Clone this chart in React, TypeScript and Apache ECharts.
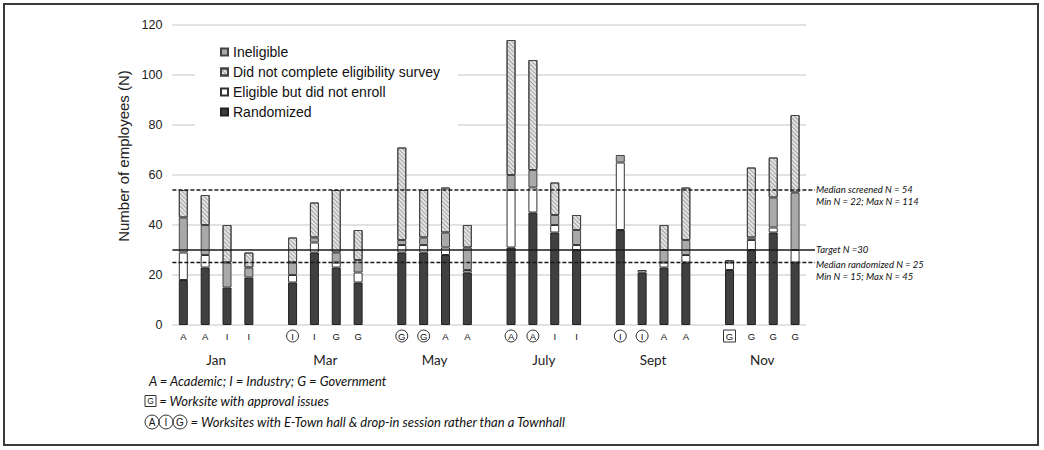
import React, { useEffect, useRef } from 'react';
import * as echarts from 'echarts';

// ---------- data ----------
const months = ['Jan', 'Mar', 'May', 'July', 'Sept', 'Nov'];
const siteTypes = ['A', 'A', 'I', 'I', 'I', 'I', 'G', 'G', 'G', 'G', 'A', 'A', 'A', 'A', 'I', 'I', 'I', 'I', 'A', 'A', 'G', 'G', 'G', 'G'];
// '' plain, 'circle' = E-Town hall & drop-in, 'box' = approval issues
const siteMarks = ['', '', '', '', 'circle', '', '', '', 'circle', 'circle', '', '', 'circle', 'circle', '', '', 'circle', 'circle', '', '', 'box', '', '', ''];

const randomized = [18, 23, 15, 19, 17, 29, 23, 17, 29, 29, 28, 21, 31, 45, 37, 30, 38, 21, 23, 25, 22, 30, 37, 25];
const eligibleNotEnrolled = [11, 5, 0, 0, 3, 4, 2, 4, 3, 3, 3, 1, 23, 10, 3, 2, 27, 1, 2, 3, 3, 4, 2, 5];
const ineligible = [14, 12, 10, 4, 5, 2, 4, 5, 2, 3, 6, 9, 6, 7, 4, 6, 3, 0, 5, 6, 1, 1, 12, 23];
const noSurvey = [11, 12, 15, 6, 10, 14, 25, 12, 37, 19, 18, 9, 54, 44, 13, 6, 0, 0, 10, 21, 0, 28, 16, 31];

const yMin = 0;
const yMax = 120;
const yStep = 20;

const medianScreened = 54;
const targetN = 30;
const medianRandomized = 25;
const screenedNote = ['Median screened N = 54', 'Min N = 22; Max N = 114'];
const targetNote = ['Target N =30'];
const randomizedNote = ['Median randomized N = 25', 'Min N = 15; Max N = 45'];

const footnoteTypes = 'A = Academic; I = Industry; G = Government';
const footnoteApproval = ' = Worksite with approval issues';
const footnoteTownhall = ' = Worksites with E-Town hall & drop-in session rather than a Townhall';

const legendOrder = ['Ineligible', 'Did not complete eligibility survey', 'Eligible but did not enroll', 'Randomized'];

// ---------- helpers ----------
const GROUP = 4;
const slotCount = months.length * (GROUP + 1) - 1;
const slotOf = (i: number) => Math.floor(i / GROUP) * (GROUP + 1) + (i % GROUP);

function toSlots(values: number[]) {
  const arr: (number | null)[] = new Array(slotCount).fill(null);
  values.forEach((v, i) => {
    arr[slotOf(i)] = v === 0 ? null : v;
  });
  return arr;
}

const categories: string[] = new Array(slotCount).fill('');
const categoryMarks: string[] = new Array(slotCount).fill('');
siteTypes.forEach((s, i) => {
  categories[slotOf(i)] = s;
  categoryMarks[slotOf(i)] = siteMarks[i];
});

const monthSlots: string[] = new Array(slotCount + 1).fill('');
months.forEach((m, g) => {
  monthSlots[g * (GROUP + 1) + 2] = m;
});

const ARIAL = "'Liberation Sans', Arial, sans-serif";
const LATO = "Lato, 'Open Sans', sans-serif";

const letterBase = {
  fontFamily: ARIAL,
  fontSize: 9.5,
  color: '#111',
  width: 12,
  height: 12,
  lineHeight: 12,
  align: 'center' as const,
};

function buildOption(): any {
  return {
    animation: false,
    backgroundColor: '#ffffff',
    grid: { left: 172.4, right: 238, top: 25, bottom: 125 },
    legend: {
      data: legendOrder,
      orient: 'vertical',
      left: 195,
      top: 35,
      padding: [10, 18, 8, 25],
      backgroundColor: '#ffffff',
      itemWidth: 7,
      itemHeight: 7,
      itemGap: 6,
      icon: 'rect',
      selectedMode: false,
      textStyle: { fontFamily: ARIAL, fontSize: 14, color: '#111' },
    },
    xAxis: [
      {
        type: 'category',
        data: categories,
        boundaryGap: true,
        axisLine: { show: false },
        axisTick: { show: false },
        splitLine: { show: false },
        axisLabel: {
          interval: 0,
          margin: 5,
          formatter: (v: string, idx: number) => {
            if (!v) return '';
            const m = categoryMarks[idx];
            if (m === 'circle') return `{c|${v}}`;
            if (m === 'box') return `{b|${v}}`;
            return `{p|${v}}`;
          },
          rich: {
            p: { ...letterBase },
            c: { ...letterBase, borderColor: '#333', borderWidth: 1, borderRadius: 6 },
            b: { ...letterBase, borderColor: '#333', borderWidth: 1, borderRadius: 0 },
          },
        },
      },
      {
        type: 'category',
        data: monthSlots,
        boundaryGap: false,
        position: 'bottom',
        axisLine: { show: false },
        axisTick: { show: false },
        splitLine: { show: false },
        axisLabel: {
          interval: 0,
          margin: 28,
          fontFamily: LATO,
          fontSize: 13.5,
          color: '#222',
        },
      },
    ],
    yAxis: {
      type: 'value',
      min: yMin,
      max: yMax,
      interval: yStep,
      axisLine: { show: false },
      axisTick: { show: false },
      axisLabel: { fontFamily: ARIAL, fontSize: 12.5, color: '#222', margin: 10 },
      splitLine: { lineStyle: { color: '#d9d9d9', width: 1.5 } },
      name: 'Number of employees (N)',
      nameLocation: 'middle',
      nameGap: 37,
      nameTextStyle: { fontFamily: ARIAL, fontSize: 15, color: '#222', padding: [0, 0, 0, 38] },
    },
    series: [
      {
        name: 'Randomized',
        type: 'bar',
        stack: 'n',
        barWidth: 9,
        data: toSlots(randomized),
        itemStyle: { color: '#404040', borderColor: '#222', borderWidth: 1 },
      },
      {
        name: 'Eligible but did not enroll',
        type: 'bar',
        stack: 'n',
        barWidth: 9,
        data: toSlots(eligibleNotEnrolled),
        itemStyle: { color: '#ffffff', borderColor: '#333', borderWidth: 1 },
      },
      {
        name: 'Ineligible',
        type: 'bar',
        stack: 'n',
        barWidth: 9,
        data: toSlots(ineligible),
        itemStyle: { color: '#a9a9a9', borderColor: '#444', borderWidth: 1 },
      },
      {
        name: 'Did not complete eligibility survey',
        type: 'bar',
        stack: 'n',
        barWidth: 9,
        data: toSlots(noSurvey),
        itemStyle: {
          color: '#e4e4e4',
          borderColor: '#444',
          borderWidth: 1,
          decal: {
            symbol: 'rect',
            symbolSize: 1,
            color: 'rgba(110,110,110,0.55)',
            dashArrayX: [1, 0],
            dashArrayY: [1, 2],
            rotation: Math.PI / 4,
          },
        },
      },
    ],
  };
}

export default function App() {
  const ref = useRef<HTMLDivElement>(null);

  useEffect(() => {
    document.body.style.margin = '0';
    const el = ref.current;
    if (!el) return;
    const chart = echarts.init(el, null, { renderer: 'svg' });
    chart.setOption(buildOption());

    const px = (i: number) => chart.convertToPixel({ xAxisIndex: 0 }, i) as number;
    const py = (v: number) => chart.convertToPixel({ yAxisIndex: 0 }, v) as number;
    const slotW = px(1) - px(0);
    const left = px(0) - slotW / 2;
    const right = px(slotCount - 1) + slotW / 2;
    const lineEnd = right + 9;
    const noteX = lineEnd + 1;

    const refLine = (v: number, dashed: boolean) => ({
      type: 'line',
      z: 10,
      shape: { x1: left, y1: py(v), x2: lineEnd, y2: py(v) },
      style: { stroke: '#1a1a1a', lineWidth: 1.5, lineDash: dashed ? [4, 2] : null },
    });

    const note = (text: string, y: number) => ({
      type: 'text',
      z: 10,
      x: noteX,
      y,
      style: {
        text,
        fontFamily: LATO,
        fontStyle: 'italic',
        fontSize: 9.5,
        fill: '#111',
        align: 'left',
        verticalAlign: 'middle',
      },
    });

    const ys = py(medianScreened);
    const yt = py(targetN);
    const yr = py(medianRandomized);

    const footStyle = {
      fontFamily: LATO,
      fontStyle: 'italic',
      fontSize: 13,
      fill: '#111',
      align: 'left',
      verticalAlign: 'middle',
    };
    const markRich = {
      c: { fontFamily: ARIAL, fontStyle: 'normal', fontSize: 10, fill: '#111', width: 14, height: 14, lineHeight: 14, align: 'center', borderColor: '#333', borderWidth: 1, borderRadius: 7 },
      b: { fontFamily: ARIAL, fontStyle: 'normal', fontSize: 8.5, fill: '#111', width: 11, height: 11, lineHeight: 11, align: 'center', borderColor: '#333', borderWidth: 1, borderRadius: 0 },
    };

    chart.setOption({
      graphic: [
        {
          type: 'rect',
          z: 20,
          shape: { x: 4, y: 4, width: 1034, height: 441 },
          style: { fill: 'none', stroke: '#3a3a3a', lineWidth: 2 },
        },
        refLine(medianScreened, true),
        refLine(targetN, false),
        refLine(medianRandomized, true),
        note(screenedNote[0], ys - 1),
        note(screenedNote[1], ys + 11.5),
        note(targetNote[0], yt - 0.5),
        note(randomizedNote[0], yr + 1.5),
        note(randomizedNote[1], yr + 14),
        {
          type: 'text',
          z: 10,
          x: 149,
          y: 381,
          style: { ...footStyle, text: footnoteTypes },
        },
        {
          type: 'text',
          z: 10,
          x: 145,
          y: 401,
          style: { ...footStyle, text: `{b|G}${footnoteApproval}`, rich: markRich },
        },
        {
          type: 'text',
          z: 10,
          x: 145,
          y: 422,
          style: { ...footStyle, text: `{c|A}{c|I}{c|G}${footnoteTownhall}`, rich: markRich },
        },
      ],
    });

    return () => chart.dispose();
  }, []);

  return <div ref={ref} style={{ width: 1044, height: 450 }} />;
}
